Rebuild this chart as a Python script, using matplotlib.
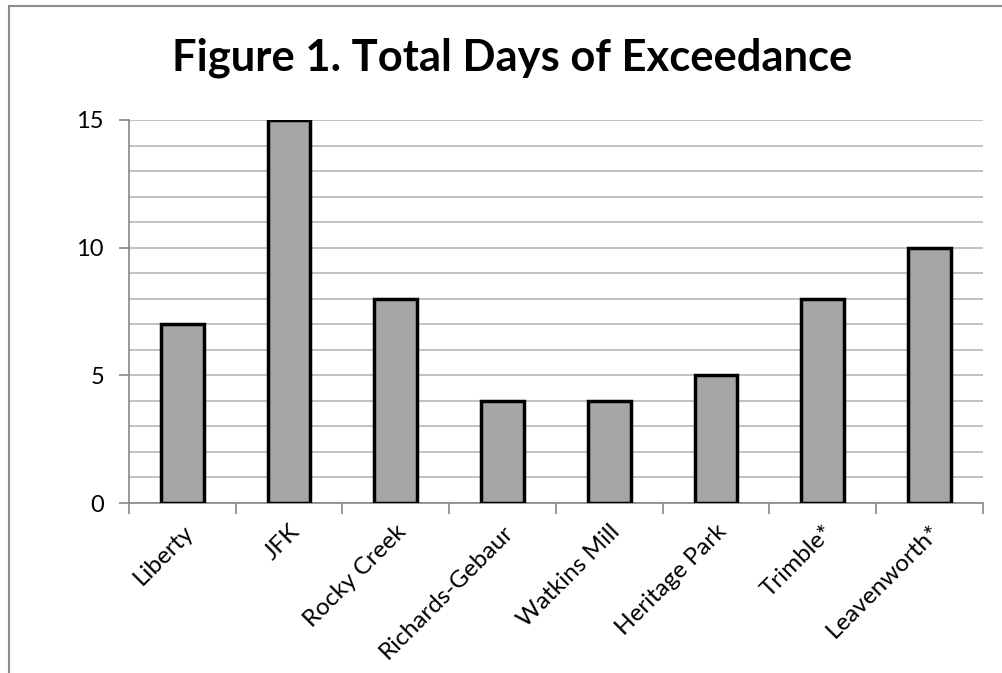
import numpy as np
import matplotlib.pyplot as plt
from matplotlib.lines import Line2D

sites = ["Liberty", "JFK", "Rocky Creek", "Richards-Gebaur", "Watkins Mill",
         "Heritage Park", "Trimble*", "Leavenworth*"]
days = [7, 15, 8, 4, 4, 5, 8, 10]

plt.rcParams['font.family'] = ['Lato', 'DejaVu Sans']

fig = plt.figure(figsize=(10.02, 6.73), dpi=100)
ax = fig.add_axes([0.1287, 0.2526, 0.981 - 0.1287, 0.8217 - 0.2526])

x = np.arange(len(sites))
ax.bar(x, days, width=0.4, color="#a6a6a6", edgecolor="black", linewidth=2.5, zorder=3)

ax.set_xlim(-0.5, len(sites) - 0.5)
ax.set_ylim(0, 15)
ax.set_yticks([0, 5, 10, 15])
ax.set_yticks(np.arange(0, 16, 1), minor=True)
ax.grid(axis='y', which='both', color="#b8b8b8", linewidth=1.2, zorder=0)
ax.tick_params(axis='y', which='major', length=7, width=1.2, color="#888888", labelsize=17, pad=11)
ax.tick_params(axis='y', which='minor', length=0)

# кат. метки по центру, засечки на границах категорий
ax.set_xticks(x)
ax.set_xticklabels(sites, rotation=45, ha='right', va='top', rotation_mode='anchor', fontsize=17.5)
ax.tick_params(axis='x', which='major', length=0, pad=13)
ax.set_xticks(np.arange(-0.5, len(sites), 1), minor=True)
ax.tick_params(axis='x', which='minor', length=8, width=1.2, color="#888888")

for s in ['top', 'right']:
    ax.spines[s].set_visible(False)
for s in ['left', 'bottom']:
    ax.spines[s].set_color("#888888")
    ax.spines[s].set_linewidth(1.2)

fig.text(0.511, 1 - 58 / 673, "Figure 1. Total Days of Exceedance", ha='center', va='center',
         fontsize=31.3, fontweight='bold')

# рамка диаграммы
bx = 9 / 1002
by = 1 - 6 / 673
fig.add_artist(Line2D([bx, bx], [0, by], transform=fig.transFigure, color="#8c8c8c", linewidth=1.5))
fig.add_artist(Line2D([bx, 1], [by, by], transform=fig.transFigure, color="#8c8c8c", linewidth=1.5))

fig.savefig("out.png", dpi=100)
